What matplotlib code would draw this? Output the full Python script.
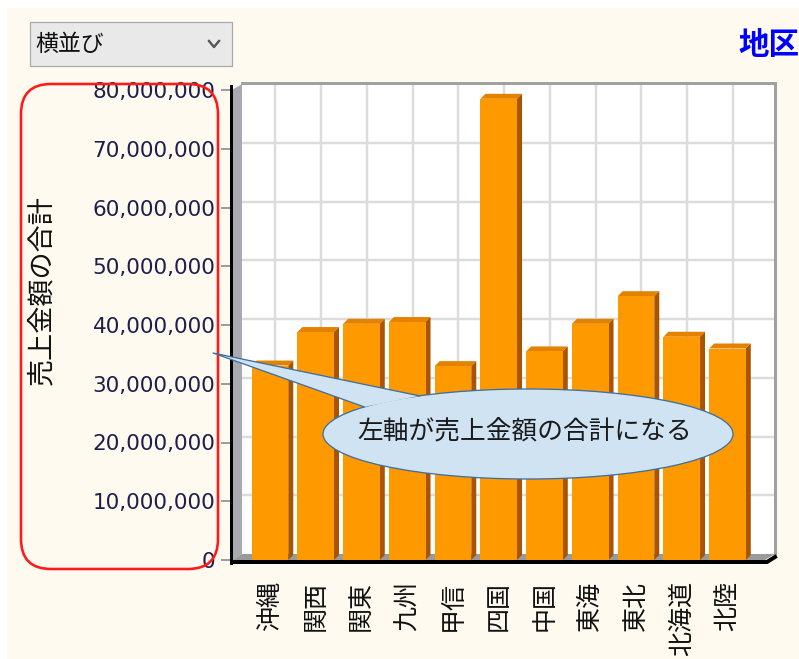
import matplotlib
matplotlib.use("Agg")
import matplotlib.pyplot as plt
from matplotlib.patches import Polygon, Rectangle, Ellipse, FancyBboxPatch
from matplotlib.lines import Line2D
from matplotlib.transforms import IdentityTransform
from matplotlib.ticker import FuncFormatter
import numpy as np

# ---------------- data ----------------
regions = ["沖縄", "関西", "関東", "九州", "甲信", "四国",
           "中国", "東海", "東北", "北海道", "北陸"]
sales = [33100000, 38800000, 40200000, 40500000, 33000000, 78500000,
         35500000, 40200000, 44900000, 38000000, 36000000]
y_ticks = [0, 10000000, 20000000, 30000000, 40000000,
           50000000, 60000000, 70000000, 80000000]

title = "地区"
y_title = "売上金額の合計"
note = "左軸が売上金額の合計になる"
layout_choice = "横並び"

# ---------------- setup ----------------
W, H = 799, 659
JP = "Noto Sans CJK JP"
plt.rcParams["font.family"] = ["DejaVu Sans", JP]

ident = IdentityTransform()
PT = 0.72  # points per pixel at dpi 100


def scr(x, y):
    # pixel position measured from the top-left corner -> display coords
    return (x, H - y)


fig = plt.figure(figsize=(W / 100, H / 100), dpi=100, facecolor="#fefaf0")

# white margin along the top and left edges
fig.add_artist(Rectangle((0, H - 8), W, 8, fc="white", ec="none", transform=ident))
fig.add_artist(Rectangle((0, 0), 7, H, fc="white", ec="none", transform=ident))

ax = fig.add_axes([232 / W, (H - 560) / H, (765 - 232) / W, (560 - 90) / H])
ax.set_facecolor("none")
x_lo, x_hi = -0.83, 10.82
ax.set_xlim(x_lo, x_hi)
ax.set_ylim(0, y_ticks[-1])
for s in ax.spines.values():
    s.set_visible(False)


def to_px(x, y):
    return np.array(ax.transData.transform((x, y)))


def add_poly(points, z, **kw):
    p = Polygon(points, closed=True, transform=ident, zorder=z, **kw)
    ax.add_artist(p)
    p.set_clip_on(False)


def add_line(xs, ys, z, **kw):
    ln = Line2D(xs, ys, transform=ident, zorder=z, **kw)
    ax.add_artist(ln)
    ln.set_clip_on(False)


# ---------------- 3D frame ----------------
depth = np.array([10, 6])
f_bl = to_px(x_lo, 0)
f_br = to_px(x_hi, 0)
f_tl = to_px(x_lo, y_ticks[-1])
f_tr = to_px(x_hi, y_ticks[-1])
b_bl, b_br, b_tl, b_tr = f_bl + depth, f_br + depth, f_tl + depth, f_tr + depth

# back wall
add_poly([b_bl, b_br, b_tr, b_tl], 0.5, fc="white", ec="none")

# grid on the back wall
for v in y_ticks[1:-1]:
    p0 = to_px(x_lo, v) + depth
    p1 = to_px(x_hi, v) + depth
    add_line([p0[0], p1[0]], [p0[1], p1[1]], 0.6, color="#dcdcdc", lw=2.5 * PT)
for i in range(len(regions)):
    p0 = to_px(i - 0.1, 0) + depth
    p1 = to_px(i - 0.1, y_ticks[-1]) + depth
    add_line([p0[0], p1[0]], [p0[1], p1[1]], 0.6, color="#dcdcdc", lw=2.5 * PT)

# back wall border (top and right)
add_line([b_tl[0], b_tr[0], b_br[0]], [b_tl[1] + 1, b_tr[1] + 1, b_br[1]], 0.7,
         color="#a0a0a0", lw=3 * PT, solid_joinstyle="miter")

# left wall and floor
add_poly([f_bl, f_tl, b_tl, b_bl], 0.8, fc="#a9a9b1", ec="none")
add_poly([f_bl, f_br, b_br, b_bl], 0.8, fc="#9a9a9a", ec="none")
add_line([f_bl[0], f_br[0] + 2, b_br[0]], [f_bl[1] - 2, f_br[1] - 2, b_br[1] - 3], 0.9,
         color="black", lw=4 * PT)
add_line([f_bl[0] - 1, f_tl[0] - 1], [f_bl[1] - 3, f_tl[1] + 4], 3,
         color="black", lw=3 * PT)

# ---------------- bars ----------------
bar_w = 0.80
x = np.arange(len(regions))
ax.bar(x, sales, width=bar_w, color="#ff9900", edgecolor="none", zorder=2)

cap = np.array([5, 5])
for xi, v in zip(x, sales):
    fl = to_px(xi - bar_w / 2, v)
    fr = to_px(xi + bar_w / 2, v)
    br0 = to_px(xi + bar_w / 2, 0)
    add_poly([fl, fr, fr + cap, fl + cap], 1.9, fc="#e38200", ec="none")
    add_poly([br0, br0 + cap, fr + cap, fr], 1.9, fc="#a85400", ec="none")

# ---------------- axes text ----------------
ax.set_yticks(y_ticks)
ax.yaxis.set_major_formatter(FuncFormatter(lambda v, p: f"{int(v):,}"))
ax.tick_params(axis="y", length=8, width=1.2, color="#8c8c8c", pad=4,
               labelsize=15.5, labelcolor="#1e1e4a")
ax.set_xticks(x)
ax.set_xticklabels(regions, rotation=90, fontfamily=JP, fontsize=18,
                   va="top", ha="center", color="#111111")
ax.tick_params(axis="x", length=0, pad=15)

fig.text(*scr(42, 290), y_title, transform=ident, rotation=90, ha="center",
         va="center", fontsize=19.5, fontfamily=JP, color="#111111")

# red highlight round the value axis
fig.add_artist(FancyBboxPatch(scr(21, 569), 197, 485,
                              boxstyle="round,pad=0,rounding_size=30",
                              transform=ident, fill=False, ec="#ff1a1a",
                              lw=2.6 * PT, zorder=3))

# ---------------- callout bubble ----------------
cx, cy = scr(528, 434)
ra, rb = 205, 45
bubble_fc, bubble_ec = "#cfe3f3", "#3f6f9f"
fig.add_artist(Ellipse((cx, cy), 2 * ra, 2 * rb, transform=ident,
                       fc=bubble_fc, ec=bubble_ec, lw=1.3 * PT, zorder=4))
tip = np.array(scr(213, 353))
t1, t2 = np.radians(122), np.radians(143)
p1 = np.array([cx + ra * np.cos(t1), cy + rb * np.sin(t1)])
p2 = np.array([cx + ra * np.cos(t2), cy + rb * np.sin(t2)])
fig.add_artist(Polygon([p1, tip, p2], closed=True, transform=ident,
                       fc=bubble_fc, ec="none", zorder=4.1))
fig.add_artist(Line2D([p1[0], tip[0], p2[0]], [p1[1], tip[1], p2[1]],
                      transform=ident, color=bubble_ec, lw=1.3 * PT, zorder=4.2))
fig.text(*scr(525, 432), note, transform=ident, ha="center", va="center",
         fontsize=18.5, fontfamily=JP, color="#1a1a1a", zorder=5)

# ---------------- header ----------------
fig.add_artist(Rectangle(scr(30, 66), 202, 44, transform=ident,
                         fc="#e9e9e9", ec="#a8a8a8", lw=1.2 * PT))
fig.text(*scr(35, 44), layout_choice, transform=ident, ha="left", va="center",
         fontsize=16.5, fontfamily=JP, color="#111111")
chev = [scr(209, 41), scr(214, 47), scr(219, 41)]
fig.add_artist(Line2D([c[0] for c in chev], [c[1] for c in chev],
                      transform=ident, color="#555555", lw=2.4 * PT))

fig.text(*scr(738, 45), title, transform=ident, ha="left", va="center",
         fontsize=22, fontweight="bold", fontfamily=JP, color="#0000ff")

fig.savefig("out.png", dpi=100, facecolor=fig.get_facecolor())
